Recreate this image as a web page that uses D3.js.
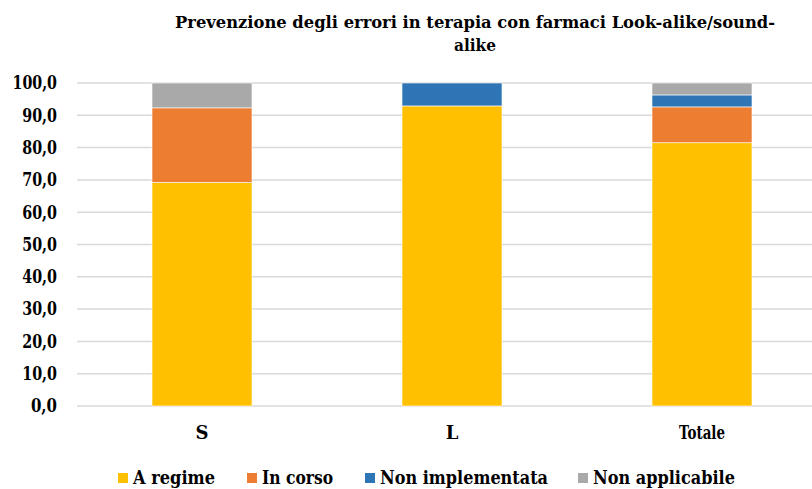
<!DOCTYPE html>
<html><head><meta charset="utf-8">
<script src="https://cdn.jsdelivr.net/npm/d3@7"></script>
<style>body{margin:0;background:#fff}svg{display:block}</style>
</head><body><svg id="c" width="812" height="489" font-family="'DejaVu Serif', 'Liberation Serif', 'Noto Serif', Times, serif" font-weight="bold"></svg>
<script>
const categories = ["S", "L", "Totale"];
const seriesNames = ["A regime", "In corso", "Non implementata", "Non applicabile"];
const aRegime = [69.2, 92.9, 81.5];
const inCorso = [23.1, 0, 11.1];
const nonImplementata = [0, 7.1, 3.7];
const nonApplicabile = [7.7, 0, 3.7];
const colors = ["#FFC000", "#ED7D31", "#2E75B6", "#A9A9A9"];
const yTicks = [0, 10, 20, 30, 40, 50, 60, 70, 80, 90, 100];
const titleLines = ["Prevenzione degli errori in terapia con farmaci Look-alike/sound-", "alike"];

const rows = categories.map((c, i) => ({cat: c, "A regime": aRegime[i], "In corso": inCorso[i], "Non implementata": nonImplementata[i], "Non applicabile": nonApplicabile[i]}));
const stacked = d3.stack().keys(seriesNames)(rows);

const svg = d3.select("#c");
const x = d3.scaleBand().domain(categories).range([77, 827]);
const y = d3.scaleLinear().domain([0, 100]).range([406, 83]);
const barW = x.bandwidth() * 0.4;

svg.append("g").selectAll("line").data(yTicks).join("line")
  .attr("x1", 77).attr("x2", 812).attr("y1", d => y(d)).attr("y2", d => y(d))
  .attr("stroke", "#D9D9D9").attr("stroke-width", 1.5);

const fmt = d => d3.format(".1f")(d).replace(".", ",");
svg.append("g").selectAll("text").data(yTicks).join("text")
  .attr("x", 57).attr("y", d => y(d)).attr("dy", "0.35em").attr("text-anchor", "end")
  .attr("font-size", 18).attr("textLength", d => fmt(d).length * 8.7 + (d === 100 ? 1 : 0)).attr("lengthAdjust", "spacingAndGlyphs")
  .text(fmt);

svg.append("g").selectAll("g").data(stacked).join("g")
  .attr("fill", (d, i) => colors[i])
  .selectAll("rect").data(d => d).join("rect")
  .attr("x", d => x(d.data.cat) + (x.bandwidth() - barW) / 2)
  .attr("width", barW)
  .attr("y", d => y(d[1]))
  .attr("height", d => Math.max(0, y(d[0]) - y(d[1])))
  .attr("stroke", "#fff").attr("stroke-width", 0.6);

const cl = svg.append("g").selectAll("text").data(categories).join("text")
  .attr("x", d => x(d) + x.bandwidth() / 2).attr("y", 439).attr("text-anchor", "middle")
  .attr("font-size", 18).text(d => d);
cl.filter(d => d.length > 1).attr("textLength", 46).attr("lengthAdjust", "spacingAndGlyphs");

const tl = svg.append("g").selectAll("text").data(titleLines).join("text")
  .attr("x", 475).attr("y", (d, i) => 28 + i * 23).attr("text-anchor", "middle")
  .attr("font-size", 17).text(d => d);
tl.filter((d, i) => i === 0).attr("textLength", 600).attr("lengthAdjust", "spacingAndGlyphs");
tl.filter((d, i) => i === 1).attr("textLength", 42).attr("lengthAdjust", "spacingAndGlyphs");

const legX = [118, 247, 365, 578];
const legW = [82, 71, 168, 142];
const lg = svg.append("g").selectAll("g").data(seriesNames).join("g")
  .attr("transform", (d, i) => `translate(${legX[i]},478)`);
lg.append("rect").attr("x", 0).attr("y", -5).attr("width", 10).attr("height", 10).attr("fill", (d, i) => colors[i]);
lg.append("text").attr("x", 15).attr("y", 0).attr("dy", "0.35em").attr("font-size", 18)
  .attr("textLength", (d, i) => legW[i]).attr("lengthAdjust", "spacingAndGlyphs").text(d => d);
</script></body></html>
